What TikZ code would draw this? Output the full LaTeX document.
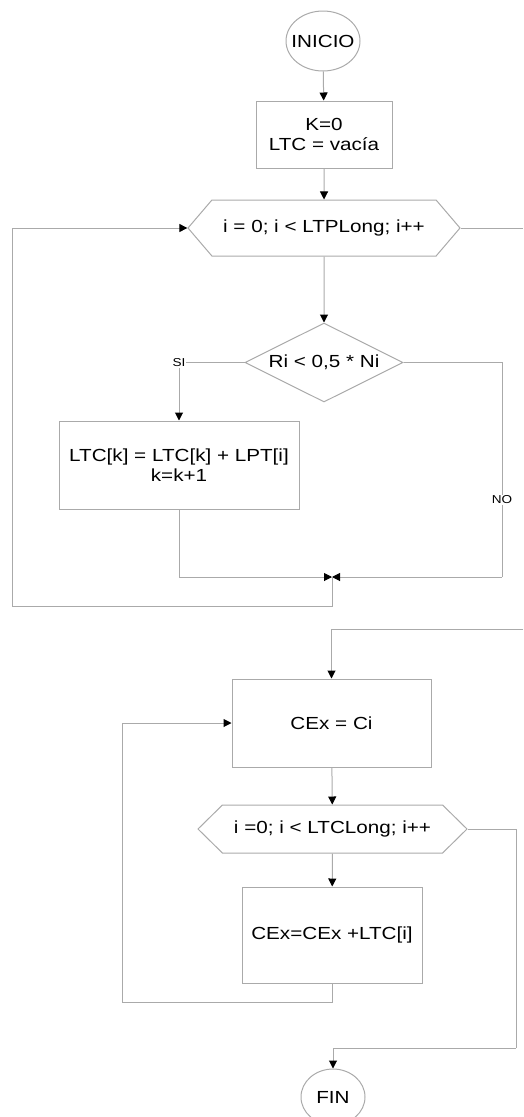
\documentclass[tikz,border=0pt]{standalone}
\usepackage{fontspec}
\setmainfont{Liberation Sans}[FakeStretch=1.18]
\usetikzlibrary{arrows.meta,shapes.geometric,shapes.symbols}
\definecolor{linegray}{RGB}{170,170,170}
\begin{document}
\begin{tikzpicture}[x=1pt,y=-1pt,
  every node/.style={font=\fontsize{17.5}{20.5}\selectfont, text=black},
  link/.style={draw=linegray, line width=1pt},
  flow/.style={link, -{Triangle[length=8pt,width=8pt,color=black]}},
  box/.style={link, rectangle, align=center, inner sep=0pt},
  term/.style={link, ellipse, inner sep=0pt},
  loophex/.style={link, signal, signal to=east and west, inner sep=0pt},
  branch/.style={font=\fontsize{11.5}{12}\selectfont, fill=white, inner sep=1pt}]
\useasboundingbox (0,0) rectangle (523,1117);
\node[term, minimum width=74, minimum height=60, label=center:INICIO] (inicio) at (323,41) {};
\node[box, minimum width=136, minimum height=67] (init) at (324,134.5) {K=0\\LTC = vacía};
\node[loophex, minimum width=272, minimum height=56, signal pointer angle=99] (forA) at (324,228) {i = 0; i < LTPLong; i++};
\node[diamond, aspect=2, link, minimum width=158, minimum height=79, inner sep=0pt] (test) at (324,362.5) {Ri < 0,5 * Ni};
\node[box, minimum width=240, minimum height=88] (add) at (179,465) {LTC[k] = LTC[k] + LPT[i]\\k=k+1};
\node[box, minimum width=199, minimum height=88] (cex) at (331.5,723) {CEx = Ci};
\node[loophex, minimum width=269, minimum height=48, signal pointer angle=89] (forB) at (332.5,829) {i =0; i < LTCLong; i++};
\node[box, minimum width=180, minimum height=96] (sum) at (332,935) {CEx=CEx +LTC[i]};
\node[term, minimum width=64, minimum height=56, label=center:FIN] (fin) at (333,1097) {};
\coordinate (join) at (332,577);
\coordinate (noturn) at (502,577);
\coordinate (loopA) at (12,606);
\coordinate (outR) at (523,228);
\coordinate (inR) at (523,629);
\coordinate (loopB) at (122,1002);
\coordinate (exitB) at (516,1048);
\draw[flow] (inicio) -- (init);
\draw[flow] (init) -- (forA);
\draw[flow] (forA) -- (test);
\draw[flow] (test.west) -| node[branch, pos=0.5]{SI} (add.north);
\draw[flow] (add.south) |- (join);
\draw[link] (test.east) -| node[branch, pos=0.82]{NO} (noturn);
\draw[flow] (noturn) -- (join);
\draw[flow] (join) |- (loopA) |- (forA.west);
\draw[link] (forA.east) -- (outR);
\draw[flow] (inR) -| (cex.north);
\draw[flow] (cex) -- (forB);
\draw[flow] (forB) -- (sum);
\draw[flow] (sum.south) |- (loopB) |- (cex.west);
\draw[link] (forB.east) -| (exitB);
\draw[flow] (exitB) -| (fin.north);
\end{tikzpicture}
\end{document}
